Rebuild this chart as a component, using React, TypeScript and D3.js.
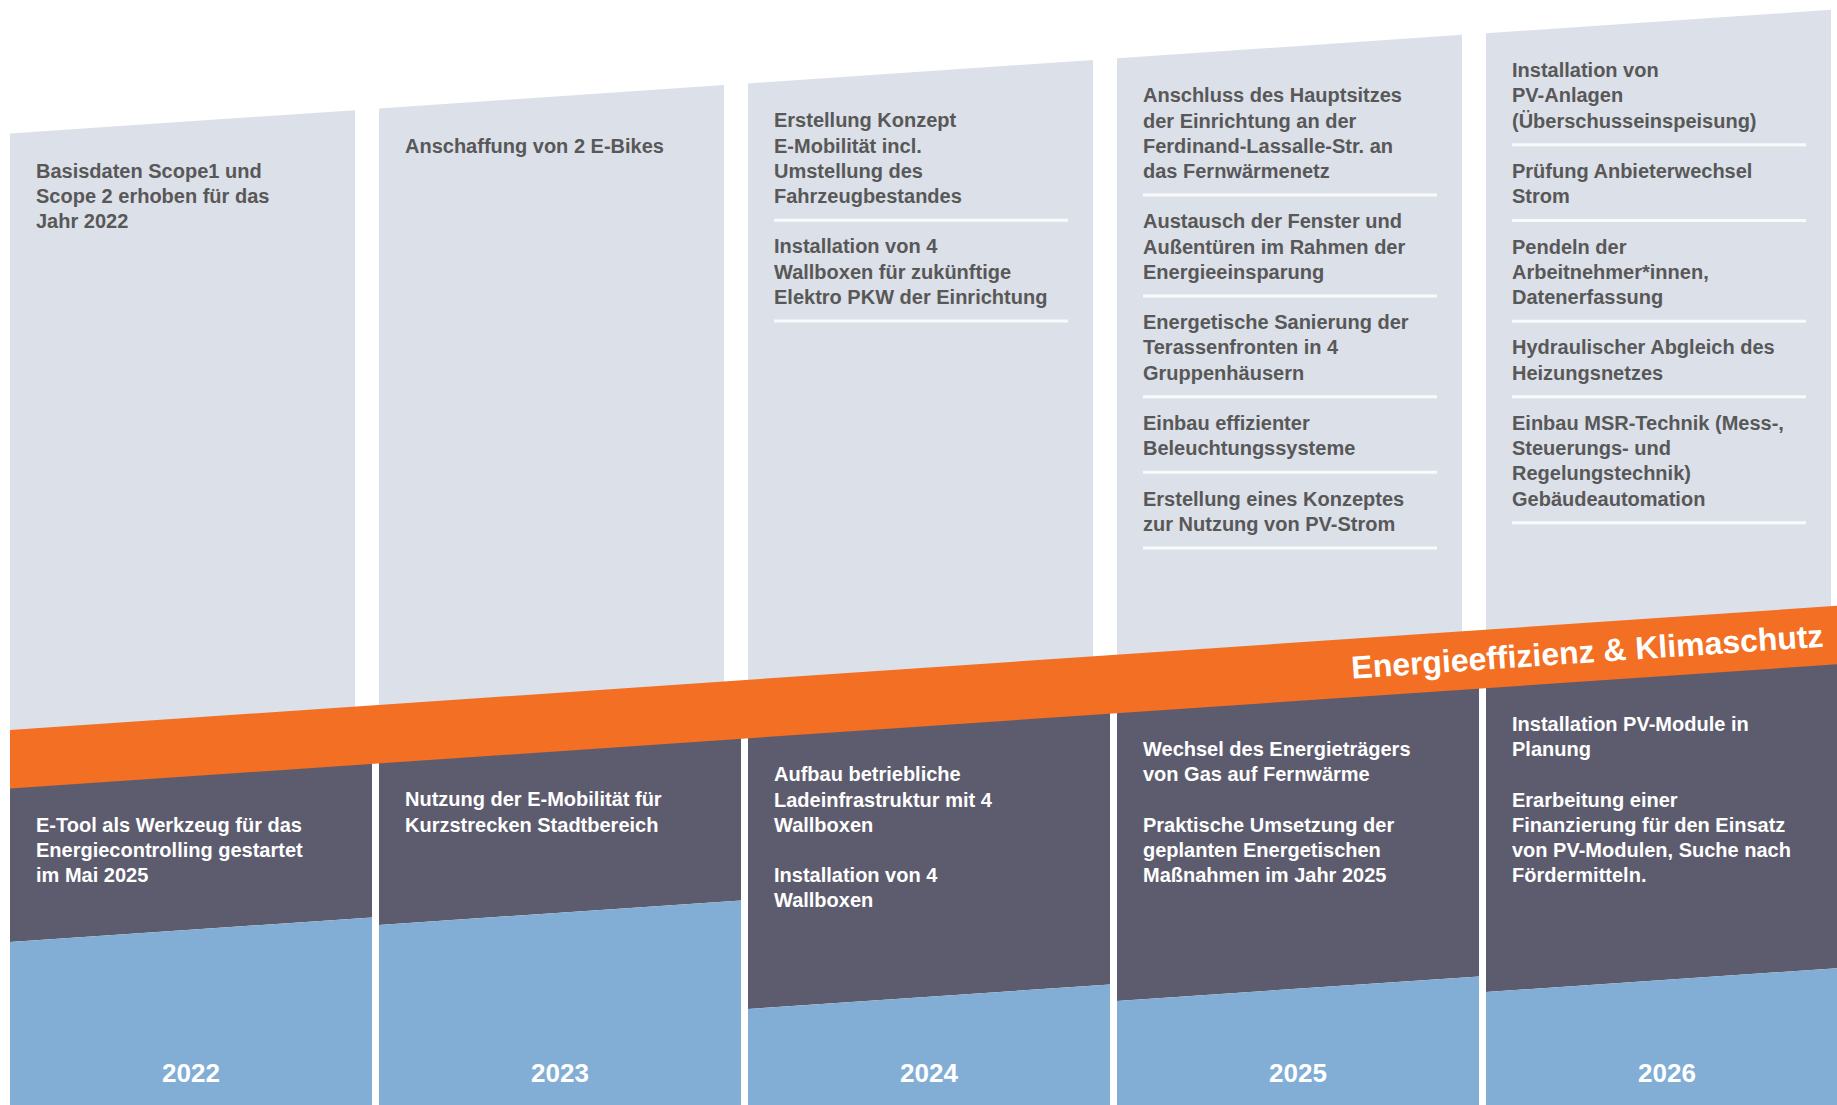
import React from 'react';
import * as d3 from 'd3';

const years = ['2022', '2023', '2024', '2025', '2026'];

const plannedMeasures: string[][][] = [
  [['Basisdaten Scope1 und', 'Scope 2 erhoben für das', 'Jahr 2022']],
  [['Anschaffung von 2 E-Bikes']],
  [
    ['Erstellung Konzept', 'E-Mobilität incl.', 'Umstellung des', 'Fahrzeugbestandes'],
    ['Installation von 4', 'Wallboxen für zukünftige', 'Elektro PKW der Einrichtung'],
  ],
  [
    ['Anschluss des Hauptsitzes', 'der Einrichtung an der', 'Ferdinand-Lassalle-Str. an', 'das Fernwärmenetz'],
    ['Austausch der Fenster und', 'Außentüren im Rahmen der', 'Energieeinsparung'],
    ['Energetische Sanierung der', 'Terassenfronten in 4', 'Gruppenhäusern'],
    ['Einbau effizienter', 'Beleuchtungssysteme'],
    ['Erstellung eines Konzeptes', 'zur Nutzung von PV-Strom'],
  ],
  [
    ['Installation von', 'PV-Anlagen', '(Überschusseinspeisung)'],
    ['Prüfung Anbieterwechsel', 'Strom'],
    ['Pendeln der', 'Arbeitnehmer*innen,', 'Datenerfassung'],
    ['Hydraulischer Abgleich des', 'Heizungsnetzes'],
    ['Einbau MSR-Technik (Mess-,', 'Steuerungs- und', 'Regelungstechnik)', 'Gebäudeautomation'],
  ],
];

const implementedMeasures: string[][][] = [
  [['E-Tool als Werkzeug für das', 'Energiecontrolling gestartet', 'im Mai 2025']],
  [['Nutzung der E-Mobilität für', 'Kurzstrecken Stadtbereich']],
  [['Aufbau betriebliche', 'Ladeinfrastruktur mit 4', 'Wallboxen'], ['Installation von 4', 'Wallboxen']],
  [['Wechsel des Energieträgers', 'von Gas auf Fernwärme'], ['Praktische Umsetzung der', 'geplanten Energetischen', 'Maßnahmen im Jahr 2025']],
  [['Installation PV-Module in', 'Planung'], ['Erarbeitung einer', 'Finanzierung für den Einsatz', 'von PV-Modulen, Suche nach', 'Fördermitteln.']],
];

// height of the blue "achieved" block at each column's left edge
const progressLevels = [163, 180, 96, 104, 113];

const bannerLabel = 'Energieeffizienz & Klimaschutz';

const W = 1837;
const H = 1105;
const FONT = '"Liberation Sans", Arial, Helvetica, sans-serif';
const C_LIGHT = '#dce0e9';
const C_DARK = '#5d5c6e';
const C_BLUE = '#82aed5';
const C_ORANGE = '#f26f24';
const C_TEXT = '#585858';

const TILT = -0.068;
const STEP = 369;
const X0 = 10;
const UPPER_W = 345;
const LOWER_W = 362;
const LINE_H = 25.2;

export default function App() {
  const xBand = d3
    .scaleBand<string>()
    .domain(years)
    .range([X0, X0 + STEP * years.length])
    .paddingInner(0)
    .paddingOuter(0);

  const topEdge = (x: number) => 133.6 + TILT * (x - X0);
  const bandTop = (x: number) => 730 + TILT * (x - X0);
  const bandBottom = (x: number) => 788.5 + TILT * (x - X0);

  const levelY = d3.scaleLinear().domain([0, 200]).range([H, H - 200]);

  const line = d3.line<[number, number]>();
  const poly = (pts: [number, number][]) => line(pts) + 'Z';

  const bannerAngle = (Math.atan(TILT) * 180) / Math.PI;

  return (
    <div style={{ position: 'absolute', left: 0, top: 0 }}>
      <svg width={W} height={H} style={{ display: 'block', background: '#fff' }}>
        {years.map((yr, i) => {
          const x0 = xBand(yr) as number;
          const xu = x0 + UPPER_W;
          const xl = Math.min(x0 + LOWER_W, W);
          const yb0 = levelY(progressLevels[i]);
          const yb = (x: number) => yb0 + TILT * (x - x0);
          return (
            <g key={yr}>
              <path
                d={poly([
                  [x0, topEdge(x0)],
                  [xu, topEdge(xu)],
                  [xu, bandTop(xu) + 4],
                  [x0, bandTop(x0) + 4],
                ])}
                fill={C_LIGHT}
              />
              <path
                d={poly([
                  [x0, bandBottom(x0) - 4],
                  [xl, bandBottom(xl) - 4],
                  [xl, yb(xl)],
                  [x0, yb(x0)],
                ])}
                fill={C_DARK}
              />
              <path
                d={poly([
                  [x0, yb(x0)],
                  [xl, yb(xl)],
                  [xl, H],
                  [x0, H],
                ])}
                fill={C_BLUE}
              />
            </g>
          );
        })}

        <path
          d={poly([
            [X0, bandTop(X0)],
            [W, bandTop(W)],
            [W, bandBottom(W)],
            [X0, bandBottom(X0)],
          ])}
          fill={C_ORANGE}
        />
        <text
          transform={`translate(1824, ${bandTop(1824) + 40}) rotate(${bannerAngle})`}
          textAnchor="end"
          fontFamily={FONT}
          fontWeight="bold"
          fontSize={32}
          fill="#fff"
        >
          {bannerLabel}
        </text>

        {years.map((yr, i) => {
          const x0 = xBand(yr) as number;
          const tx = x0 + 26;
          const base = topEdge(x0) + 44;
          const items = plannedMeasures[i];
          const out: React.ReactNode[] = [];
          let slot = 0;
          items.forEach((item, j) => {
            item.forEach((ln, k) => {
              out.push(
                <text key={`t${j}-${k}`} x={tx} y={base + slot * LINE_H}>
                  {ln}
                </text>
              );
              slot++;
            });
            if (items.length > 1) {
              const ly = base + slot * LINE_H - 8;
              out.push(
                <line
                  key={`l${j}`}
                  x1={tx}
                  x2={x0 + 320}
                  y1={ly}
                  y2={ly}
                  stroke="#f9fafc"
                  strokeWidth={3}
                />
              );
            }
            slot++;
          });
          return (
            <g key={`up${yr}`} fontFamily={FONT} fontWeight="bold" fontSize={20} fill={C_TEXT}>
              {out}
            </g>
          );
        })}

        {years.map((yr, i) => {
          const x0 = xBand(yr) as number;
          const tx = x0 + 26;
          const base = bandBottom(x0) + 43;
          const out: React.ReactNode[] = [];
          let slot = 0;
          implementedMeasures[i].forEach((item, j) => {
            item.forEach((ln, k) => {
              out.push(
                <text key={`t${j}-${k}`} x={tx} y={base + slot * LINE_H}>
                  {ln}
                </text>
              );
              slot++;
            });
            slot++;
          });
          return (
            <g key={`lo${yr}`} fontFamily={FONT} fontWeight="bold" fontSize={20} fill="#fff">
              {out}
            </g>
          );
        })}

        {years.map((yr) => {
          const x0 = xBand(yr) as number;
          return (
            <text
              key={`yr${yr}`}
              x={x0 + LOWER_W / 2}
              y={1082}
              textAnchor="middle"
              fontFamily={FONT}
              fontWeight="bold"
              fontSize={26}
              fill="#fff"
            >
              {yr}
            </text>
          );
        })}
      </svg>
    </div>
  );
}
